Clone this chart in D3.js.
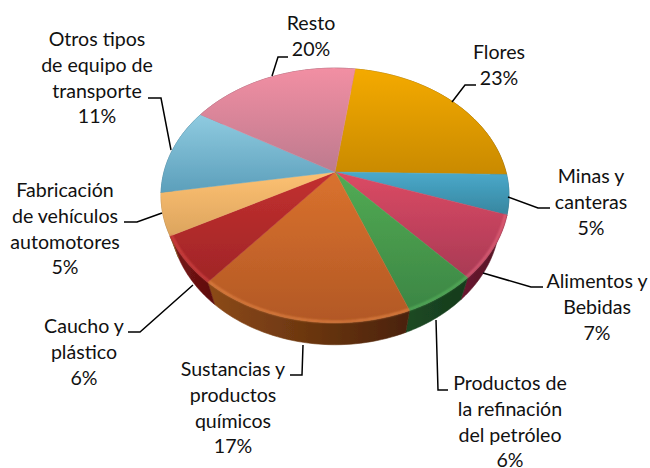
<!DOCTYPE html>
<html><head><meta charset="utf-8">
<script src="https://cdnjs.cloudflare.com/ajax/libs/d3/7.8.5/d3.min.js"></script>
<style>html,body{margin:0;padding:0;background:#fff;overflow:hidden}svg{display:block}text{font-family:Lato,"Open Sans",sans-serif;font-size:19.6px;fill:#111}</style>
</head><body><svg id="c" width="650" height="468"></svg>
<script>
// data
const categories=["Flores","Minas y canteras","Alimentos y Bebidas","Productos de la refinación del petróleo","Sustancias y productos químicos","Caucho y plástico","Fabricación de vehículos automotores","Otros tipos de equipo de transporte","Resto"];
const sliceShares=[23.1,5.0,8.0,5.8,16.9,6.1,5.3,11.1,18.7];
const percentLabels=["23%","5%","7%","6%","17%","6%","5%","11%","20%"];
const labelLines=[["Flores"],["Minas y","canteras"],["Alimentos y","Bebidas"],["Productos de","la refinación","del petróleo"],["Sustancias y","productos","químicos"],["Caucho y","plástico"],["Fabricación","de vehículos","automotores"],["Otros tipos","de equipo de","transporte"],["Resto"]];
// styles and layout
const topColors=[["#f4aa00","#c98a00"],["#4aa9cb","#37869f"],["#dc4a64","#a83a55"],["#52ab54","#3c8644"],["#da722e","#b25825"],["#c2302f","#a02527"],["#fdc172","#dca45e"],["#8fcbe0","#5c9fbb"],["#f28fa3","#bd7a8e"]];
const wallColors=[["#8a6000","#6a4800"],["#256b82","#1c5568"],["#6a1a30","#501224"],["#1c4a24","#163a1c"],["#8c4a18","#4a2208"],["#7a1515","#5c0e0e"],["#a07030","#805820"],["#3a7088","#2a5a70"],["#8a5060","#704050"]];
const rimColors=[null,null,"#e86a80","#5cb860","#e88a48","#dc4a48",null,null,null];
const labelPos=[[499,59],[591,183],[597,288],[510,390],[233,376],[84,333],[65,197],[97,46],[311,30]];
const lineStep=25.8;
const leaders=[[[452,102],[465,85],[476,85]],[[508,197],[538,208],[550,208]],[[483,273],[531,287],[543,287]],[[436,320],[438,390],[448,390]],[[303,345],[302,375],[290,375]],[[193,285],[140,332],[128,332]],[[162,213],[137,222],[124,222]],[[171,150],[161,98],[148,98]],[[272,76],[278,57],[288,57]]];
const cx=335,cy=172,A=171,B=123,K=0.184,startDeg=-82,baseScale=0.948,baseDrop=22;
const svg=d3.select("#c"),defs=svg.append("defs");
const f=defs.append("filter").attr("id","soft").attr("x","-5%").attr("y","-5%").attr("width","110%").attr("height","110%");
f.append("feGaussianBlur").attr("stdDeviation",0.7);
const f3=defs.append("filter").attr("id","face").attr("x","-5%").attr("y","-5%").attr("width","110%").attr("height","110%");
f3.append("feGaussianBlur").attr("stdDeviation",0.45);
const f2=defs.append("filter").attr("id","rim").attr("x","-5%").attr("y","-5%").attr("width","110%").attr("height","110%");
f2.append("feGaussianBlur").attr("stdDeviation",0.9);
function grad(id,cols,horizontal){const g=defs.append("linearGradient").attr("id",id).attr("x1",0).attr("y1",0).attr("x2",horizontal?1:0).attr("y2",horizontal?0:1);
 g.append("stop").attr("offset",0).attr("stop-color",cols[0]);g.append("stop").attr("offset",1).attr("stop-color",cols[1]);}
const project=(a,s=1,drop=0)=>{const u=Math.sin(a),v=-Math.cos(a),w=1-K*v;return [cx+s*A*u/w,cy+drop+B*v/w];};
const pie=d3.pie().sort(null).startAngle((startDeg+90)*Math.PI/180).endAngle((startDeg+90+360)*Math.PI/180)(sliceShares);
const arcPts=(d,s,drop)=>d3.range(0,41).map(i=>project(d.startAngle+(d.endAngle-d.startAngle)*i/40,s,drop));
const line=d3.line();
const gw=svg.append("g").attr("filter","url(#soft)");
pie.forEach((d,i)=>{grad("w"+i,wallColors[i],true);
 const t=arcPts(d,1,0),b=arcPts(d,baseScale,baseDrop).reverse();
 gw.append("path").attr("d",line(t.concat(b))+"Z").attr("fill",`url(#w${i})`).attr("stroke",`url(#w${i})`).attr("stroke-width",0.6);});
const gt=svg.append("g").attr("filter","url(#face)");
pie.forEach((d,i)=>{grad("t"+i,topColors[i],false);
 gt.append("path").attr("d",line([[cx,cy]].concat(arcPts(d,1,0)))+"Z").attr("fill",`url(#t${i})`).attr("stroke",`url(#t${i})`).attr("stroke-width",0.5);});
pie.forEach((d,i)=>{if(rimColors[i])gt.append("path").attr("d",line(arcPts(d,0.992,-1))).attr("fill","none").attr("stroke",rimColors[i]).attr("stroke-width",1.6).attr("filter","url(#rim)");});
const gl=svg.append("g");
leaders.forEach(p=>gl.append("path").attr("d",line(p)).attr("fill","none").attr("stroke","#000").attr("stroke-width",1.5));
labelLines.forEach((ls,i)=>{const t=svg.append("text").attr("text-anchor","middle");
 ls.concat([percentLabels[i]]).forEach((s,j)=>t.append("tspan").attr("x",labelPos[i][0]).attr("y",labelPos[i][1]+j*lineStep).text(s));});
</script></body></html>
